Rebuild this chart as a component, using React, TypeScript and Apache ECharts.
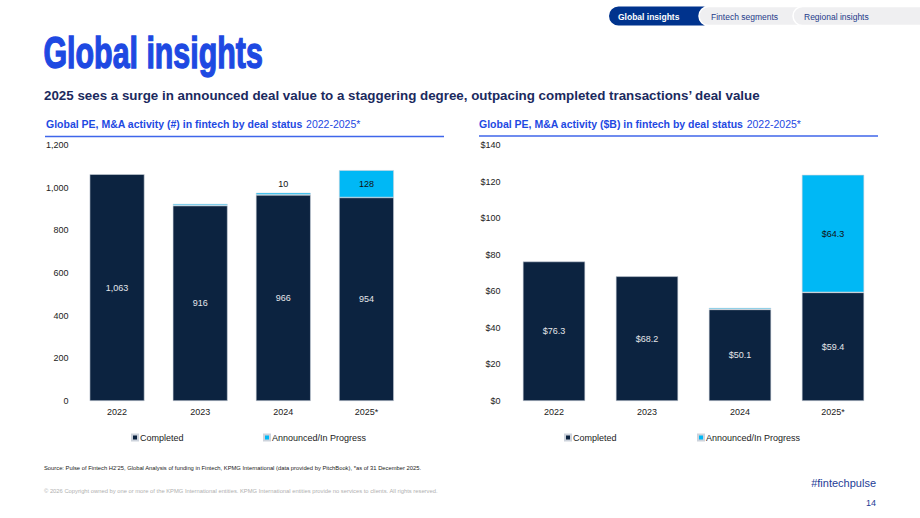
import React, { useEffect, useRef } from "react";
import * as echarts from "echarts";

// Deal-status breakdown of global PE and M&A activity in fintech
const years = ["2022", "2023", "2024", "2025*"];
const countCompleted = [1063, 916, 966, 954];
const countAnnounced: (number | null)[] = [null, 8, 10, 128];
const countAnnouncedLabelled = [false, false, true, true];
const valueCompleted = [76.3, 68.2, 50.1, 59.4];
const valueAnnounced: (number | null)[] = [null, null, 0.8, 64.3];
const valueAnnouncedLabelled = [false, false, false, true];

const NAVY = "#0C2340";
const CYAN = "#00B8F5";
const BLUE = "#1E49E2";
const FONT = "'Liberation Sans', Arial, sans-serif";

const fmtCount = (v: number) => v.toLocaleString("en-US");
const fmtValue = (v: number) => "$" + v.toFixed(1);

function announcedData(vals: (number | null)[], labelled: boolean[], fmt: (v: number) => string) {
  return vals.map((v, i) => {
    if (v == null) return "-";
    return {
      value: v,
      label: {
        show: labelled[i],
        position: v < 40 ? "top" : "inside",
        distance: 4,
        color: "#111",
        fontSize: 9,
        fontFamily: FONT,
        formatter: () => fmt(v),
      },
    };
  });
}

function legendAt(left: number, name: string) {
  return {
    left, top: 433, padding: 0, data: [name],
    icon: "rect", itemWidth: 6, itemHeight: 6,
    textStyle: { fontSize: 9, color: "#222", fontFamily: FONT, padding: [0, 0, 0, -3] },
  };
}

export default function App() {
  const ref = useRef<HTMLDivElement>(null);

  useEffect(() => {
    if (!ref.current) return;
    const chart = echarts.init(ref.current, null, { renderer: "svg" });

    const axisLabel = { color: "#222", fontSize: 9, fontFamily: FONT };
    const barBorder = { borderColor: "#cdd3dc", borderWidth: 0.6 };

    chart.setOption({
      animation: false,
      backgroundColor: "#fff",
      textStyle: { fontFamily: FONT },
      grid: [
        { left: 75.5, top: 145, width: 332.5, height: 256 },
        { left: 507.5, top: 145, width: 372, height: 256 },
      ],
      xAxis: [0, 1].map((g) => ({
        type: "category",
        gridIndex: g,
        data: years,
        axisLine: { show: false },
        axisTick: { show: false },
        axisLabel: { ...axisLabel, margin: 6 },
      })),
      yAxis: [
        {
          type: "value",
          gridIndex: 0,
          min: 0,
          max: 1200,
          interval: 200,
          splitLine: { show: false },
          axisLine: { show: false },
          axisTick: { show: false },
          axisLabel: { ...axisLabel, margin: 7, formatter: (v: number) => fmtCount(v) },
        },
        {
          type: "value",
          gridIndex: 1,
          min: 0,
          max: 140,
          interval: 20,
          splitLine: { show: false },
          axisLine: { show: false },
          axisTick: { show: false },
          axisLabel: { ...axisLabel, margin: 7, formatter: (v: number) => "$" + v },
        },
      ],
      legend: [
        legendAt(131, "Completed"),
        legendAt(263, "Announced/In Progress"),
        legendAt(564, "Completed"),
        legendAt(697, "Announced/In Progress"),
      ],
      series: [
        {
          name: "Completed", type: "bar", stack: "count", xAxisIndex: 0, yAxisIndex: 0,
          barWidth: "66%", data: countCompleted,
          itemStyle: { color: NAVY, ...barBorder },
          label: { show: true, position: "inside", color: "#e4e6ea", fontSize: 9, formatter: (p: any) => fmtCount(p.value) },
        },
        {
          name: "Announced/In Progress", type: "bar", stack: "count", xAxisIndex: 0, yAxisIndex: 0,
          barWidth: "66%", data: announcedData(countAnnounced, countAnnouncedLabelled, fmtCount),
          itemStyle: { color: CYAN, ...barBorder },
        },
        {
          name: "Completed", type: "bar", stack: "value", xAxisIndex: 1, yAxisIndex: 1,
          barWidth: "67%", data: valueCompleted,
          itemStyle: { color: NAVY, ...barBorder },
          label: { show: true, position: "inside", color: "#e4e6ea", fontSize: 9, formatter: (p: any) => fmtValue(p.value) },
        },
        {
          name: "Announced/In Progress", type: "bar", stack: "value", xAxisIndex: 1, yAxisIndex: 1,
          barWidth: "67%", data: announcedData(valueAnnounced, valueAnnouncedLabelled, fmtValue),
          itemStyle: { color: CYAN, ...barBorder },
        },
      ],
      graphic: [
        // navigation tabs
        {
          type: "rect", shape: { x: 609, y: 6.5, width: 104, height: 19, r: 9.5 },
          style: { fill: "#00338D" }, z: 10,
        },
        {
          type: "rect", shape: { x: 699, y: 6.5, width: 110, height: 19, r: [9.5, 0, 0, 9.5] },
          style: { fill: "#efeff1", stroke: "#fff", lineWidth: 1.5 }, z: 11,
        },
        {
          type: "rect", shape: { x: 793, y: 6.5, width: 140, height: 19, r: [9.5, 0, 0, 9.5] },
          style: { fill: "#efeff1", stroke: "#fff", lineWidth: 1.5 }, z: 12,
        },
        {
          type: "text", x: 618, y: 16.5, z: 13,
          style: { text: "Global insights", fill: "#fff", font: `bold 8.5px ${FONT}`, verticalAlign: "middle" },
        },
        {
          type: "text", x: 711, y: 16.5, z: 13,
          style: { text: "Fintech segments", fill: "#1E3A8A", font: `8.5px ${FONT}`, verticalAlign: "middle" },
        },
        {
          type: "text", x: 804, y: 16.5, z: 13,
          style: { text: "Regional insights", fill: "#1E3A8A", font: `8.5px ${FONT}`, verticalAlign: "middle" },
        },
        // page heading, condensed and heavy
        {
          type: "text", x: 43.5, y: 52.5, scaleX: 0.69, z: 10,
          style: {
            text: "Global insights", fill: BLUE, stroke: BLUE, lineWidth: 1.4,
            font: `bold 44px ${FONT}`, verticalAlign: "middle",
          },
        },
        {
          type: "text", x: 44, y: 95.5, z: 10,
          style: {
            text: "2025 sees a surge in announced deal value to a staggering degree, outpacing completed transactions\u2019 deal value",
            fill: "#1B2A5E", font: `bold 13.35px ${FONT}`, verticalAlign: "middle",
          },
        },
        // chart titles with underline
        {
          type: "text", x: 46, y: 123.5, z: 10,
          style: {
            text: "{b|Global PE, M&A activity (#) in fintech by deal status} {r|2022-2025*}",
            verticalAlign: "middle",
            rich: {
              b: { fill: BLUE, font: `bold 10.5px ${FONT}` },
              r: { fill: BLUE, font: `10.5px ${FONT}` },
            },
          },
        },
        {
          type: "line", shape: { x1: 45, y1: 136.5, x2: 444, y2: 136.5 },
          style: { stroke: "#3F66EA", lineWidth: 1.5 }, z: 10,
        },
        {
          type: "text", x: 479, y: 123.5, z: 10,
          style: {
            text: "{b|Global PE, M&A activity ($B) in fintech by deal status} {r|2022-2025*}",
            verticalAlign: "middle",
            rich: {
              b: { fill: BLUE, font: `bold 10.5px ${FONT}` },
              r: { fill: BLUE, font: `10.5px ${FONT}` },
            },
          },
        },
        {
          type: "line", shape: { x1: 479, y1: 136, x2: 878, y2: 136 },
          style: { stroke: "#3F66EA", lineWidth: 1.5 }, z: 10,
        },
        // footer
        {
          type: "text", x: 44, y: 467.5, z: 10,
          style: {
            text: "Source: Pulse of Fintech H2\u201925, Global Analysis of funding in Fintech, KPMG International (data provided by PitchBook), *as of 31 December 2025.",
            fill: "#222", font: `5.8px ${FONT}`, verticalAlign: "middle",
          },
        },
        {
          type: "text", x: 44, y: 490.5, z: 10,
          style: {
            text: "\u00a9 2026 Copyright owned by one or more of the KPMG International entities. KPMG International entities provide no services to clients. All rights reserved.",
            fill: "#b0b0b0", font: `5.8px ${FONT}`, verticalAlign: "middle",
          },
        },
        {
          type: "text", x: 876, y: 482.5, z: 10,
          style: { text: "#fintechpulse", fill: "#1E3C96", font: `11px ${FONT}`, align: "right", verticalAlign: "middle" },
        },
        {
          type: "text", x: 876, y: 503, z: 10,
          style: { text: "14", fill: "#1E3C96", font: `9px ${FONT}`, align: "right", verticalAlign: "middle" },
        },
      ],
    });

    return () => chart.dispose();
  }, []);

  return (
    <div
      ref={ref}
      style={{ position: "fixed", left: 0, top: 0, width: 920, height: 518, background: "#fff" }}
    />
  );
}
